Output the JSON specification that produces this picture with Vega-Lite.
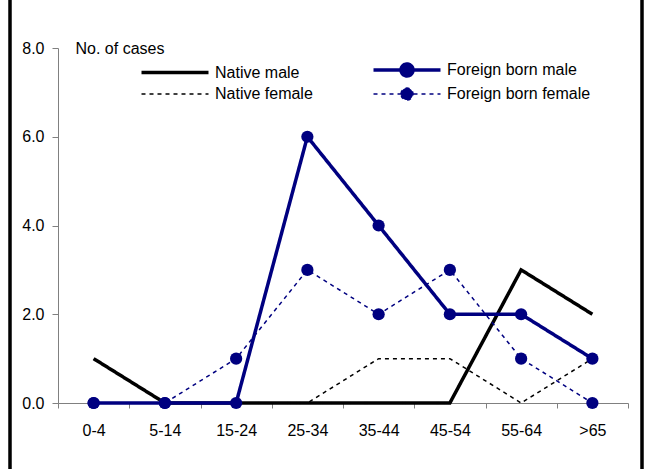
{
  "$schema": "https://vega.github.io/schema/vega-lite/v6.json",
  "width": 632,
  "height": 475,
  "autosize": {"type": "none"},
  "padding": {"left": 10, "right": 8, "top": -3, "bottom": -3},
  "background": "white",
  "config": {
    "view": {"stroke": "black", "strokeWidth": 3.5},
    "font": "Liberation Sans"
  },
  "data": {
    "values": [
      {"series": "Native female", "age": "0-4", "cases": 0},
      {"series": "Native female", "age": "5-14", "cases": 0},
      {"series": "Native female", "age": "15-24", "cases": 0},
      {"series": "Native female", "age": "25-34", "cases": 0},
      {"series": "Native female", "age": "35-44", "cases": 1},
      {"series": "Native female", "age": "45-54", "cases": 1},
      {"series": "Native female", "age": "55-64", "cases": 0},
      {"series": "Native female", "age": ">65", "cases": 1},
      {"series": "Native male", "age": "0-4", "cases": 1},
      {"series": "Native male", "age": "5-14", "cases": 0},
      {"series": "Native male", "age": "15-24", "cases": 0},
      {"series": "Native male", "age": "25-34", "cases": 0},
      {"series": "Native male", "age": "35-44", "cases": 0},
      {"series": "Native male", "age": "45-54", "cases": 0},
      {"series": "Native male", "age": "55-64", "cases": 3},
      {"series": "Native male", "age": ">65", "cases": 2},
      {"series": "Foreign born female", "age": "0-4", "cases": 0},
      {"series": "Foreign born female", "age": "5-14", "cases": 0},
      {"series": "Foreign born female", "age": "15-24", "cases": 1},
      {"series": "Foreign born female", "age": "25-34", "cases": 3},
      {"series": "Foreign born female", "age": "35-44", "cases": 2},
      {"series": "Foreign born female", "age": "45-54", "cases": 3},
      {"series": "Foreign born female", "age": "55-64", "cases": 1},
      {"series": "Foreign born female", "age": ">65", "cases": 0},
      {"series": "Foreign born male", "age": "0-4", "cases": 0},
      {"series": "Foreign born male", "age": "5-14", "cases": 0},
      {"series": "Foreign born male", "age": "15-24", "cases": 0},
      {"series": "Foreign born male", "age": "25-34", "cases": 6},
      {"series": "Foreign born male", "age": "35-44", "cases": 4},
      {"series": "Foreign born male", "age": "45-54", "cases": 2},
      {"series": "Foreign born male", "age": "55-64", "cases": 2},
      {"series": "Foreign born male", "age": ">65", "cases": 1}
    ]
  },
  "layer": [
    {
      "mark": {"type": "line"},
      "encoding": {
        "x": {
          "field": "age", "type": "ordinal", "bandPosition": 0.5,
          "sort": ["0-4", "5-14", "15-24", "25-34", "35-44", "45-54", "55-64", ">65"],
          "scale": {"type": "band", "range": [48, 618], "paddingInner": 0, "paddingOuter": 0},
          "axis": {
            "title": null, "labelAngle": 0, "tickBand": "extent", "offset": -69,
            "domainColor": "#808080", "tickColor": "#808080", "tickSize": 5,
            "labelFontSize": 16, "labelColor": "black", "labelPadding": 14, "grid": false
          }
        },
        "y": {
          "field": "cases", "type": "quantitative",
          "scale": {"domain": [0, 8], "range": [406, 51], "nice": false},
          "axis": {
            "values": [0, 2, 4, 6, 8], "offset": -48, "grid": false,
            "title": "No.  of cases", "titleAngle": 0, "titleAlign": "left", "titleBaseline": "middle",
            "titleX": 17, "titleY": 51, "titleFontWeight": "normal", "titleFontSize": 16, "titleColor": "black",
            "domainColor": "#808080", "tickColor": "#808080", "tickSize": 6,
            "labelFontSize": 16, "labelColor": "black", "labelPadding": 8
          }
        },
        "color": {
          "field": "series", "type": "nominal",
          "scale": {
            "domain": ["Native male", "Native female", "Foreign born male", "Foreign born female"],
            "range": ["black", "black", "#000080", "#000080"]
          },
          "legend": {
            "orient": "none", "legendX": 153, "legendY": 61, "columns": 2, "title": null,
            "symbolSize": 400, "symbolType": "stroke", "labelOffset": 28, "labelFontSize": 16,
            "labelColor": "black", "columnPadding": 53, "rowPadding": 0, "padding": 0,
            "encode": {
              "symbols": {
                "update": {
                  "shape": {"signal": "indexof(datum.value, 'Foreign') >= 0 ? 'M-3.35,0H3.35M-0.6,0A0.6,0.6 0 1,1 0.6,0A0.6,0.6 0 1,1 -0.6,0' : 'M-3.35,0H3.35'"},
                  "fill": {"value": "#000080"},
                  "strokeWidth": {"signal": "indexof(datum.value, 'female') >= 0 ? 1.5 : 3.5"},
                  "strokeDash": {"signal": "indexof(datum.value, 'female') >= 0 ? [4, 4] : [1, 0]"}
                }
              }
            }
          }
        },
        "strokeDash": {
          "field": "series", "type": "nominal",
          "scale": {
            "domain": ["Native male", "Native female", "Foreign born male", "Foreign born female"],
            "range": [[1, 0], [4, 4], [1, 0], [4, 4]]
          },
          "legend": null
        },
        "strokeWidth": {
          "field": "series", "type": "ordinal",
          "scale": {
            "type": "ordinal",
            "domain": ["Native male", "Native female", "Foreign born male", "Foreign born female"],
            "range": [3.5, 1.5, 3.5, 1.5]
          },
          "legend": null
        }
      }
    },
    {
      "transform": [{"filter": "indexof(datum.series, 'Foreign') >= 0"}],
      "mark": {"type": "point", "filled": true, "size": 150, "color": "#000080", "opacity": 1},
      "encoding": {
        "x": {
          "field": "age", "type": "ordinal", "bandPosition": 0.5,
          "sort": ["0-4", "5-14", "15-24", "25-34", "35-44", "45-54", "55-64", ">65"]
        },
        "y": {"field": "cases", "type": "quantitative"}
      }
    }
  ]
}
